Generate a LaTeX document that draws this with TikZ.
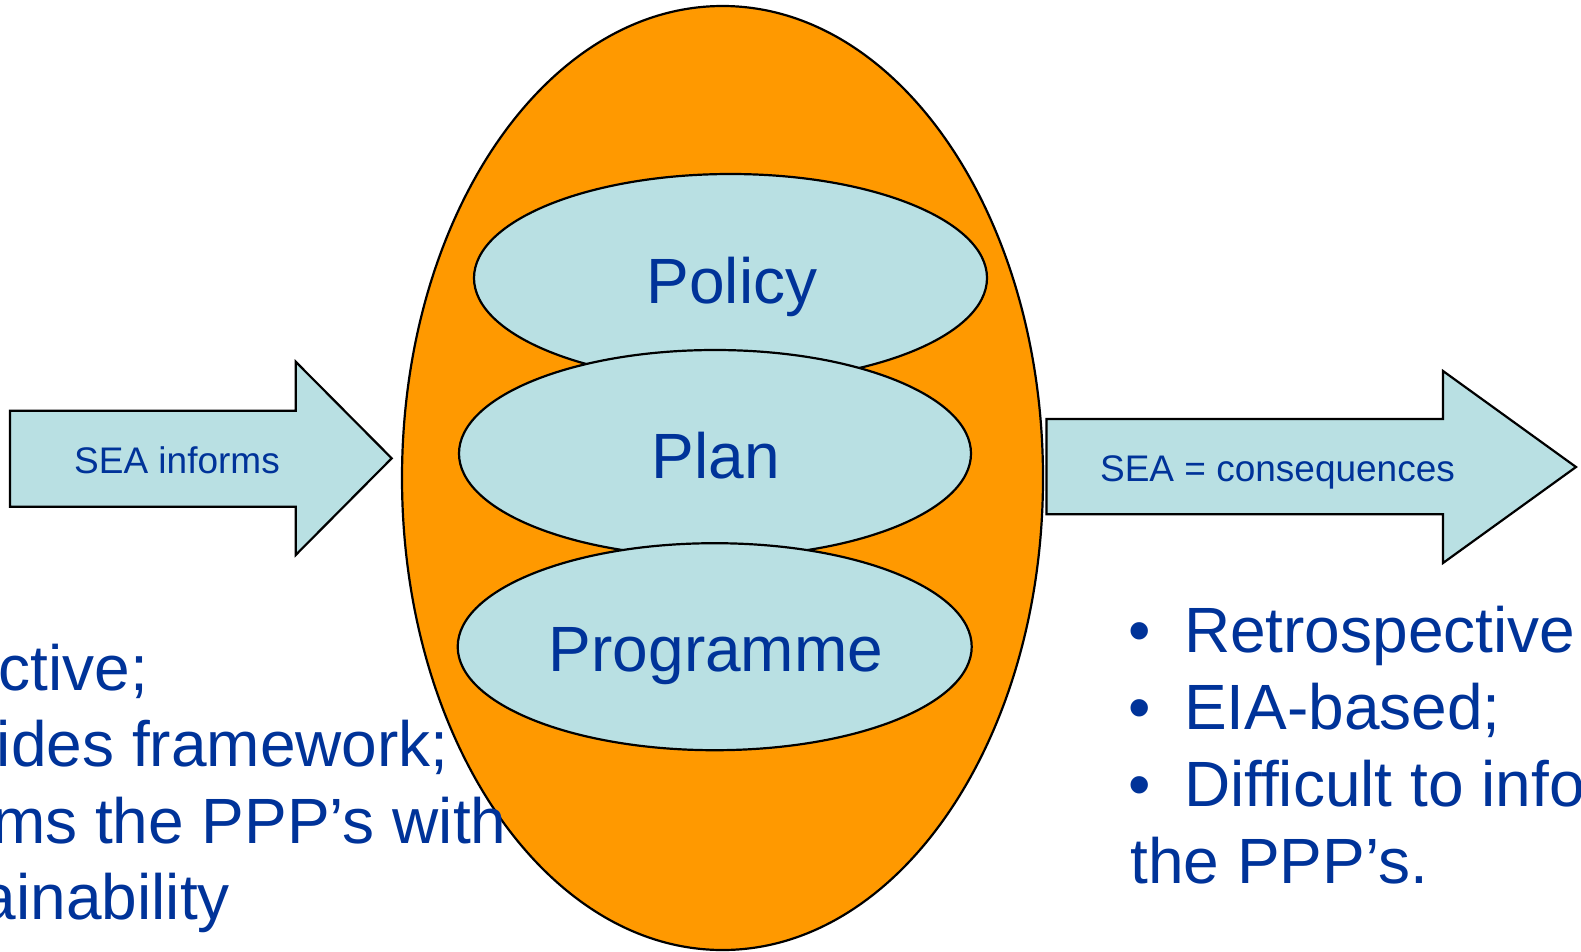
\documentclass[tikz,border=0pt]{standalone}
\usepackage{fontspec}
\setmainfont{Liberation Sans}[Ligatures={NoCommon}]
\usetikzlibrary{shapes.geometric}
\definecolor{txtblue}{HTML}{003399}
\definecolor{pale}{HTML}{B9E0E3}
\definecolor{orng}{HTML}{FF9900}
\begin{document}
\begin{tikzpicture}[x=1pt,y=-1pt,
  outl/.style={draw=black, line width=2.2pt},
  oval/.style={ellipse, outl, fill=pale, inner sep=0pt, outer sep=0pt},
  bigtxt/.style={font=\fontsize{64}{76.8}\selectfont, text=txtblue, inner sep=0pt, outer sep=0pt},
  smalltxt/.style={font=\fontsize{37}{44}\selectfont, text=txtblue, inner sep=0pt, outer sep=0pt},
  fatarrow/.style={outl, fill=pale, line join=miter}]
\useasboundingbox (0,0) rectangle (1581,951);

% big orange ellipse
\node[ellipse, outl, fill=orng, minimum width=641pt, minimum height=944pt, inner sep=0pt] (outer) at (722.5,478) {};

% inner ellipses
\node[oval, minimum width=513pt, minimum height=208pt] (policy) at (730.5,278) {};
\node[oval, minimum width=512pt, minimum height=207pt] (plan) at (715,453.5) {};
\node[oval, minimum width=514pt, minimum height=207pt] (programme) at (714.7,646.7) {};

\node[bigtxt, anchor=base] (policyt) at (732,303.3) {Policy};
\node[bigtxt, anchor=base] (plant) at (716,478.3) {Plan};
\node[bigtxt, anchor=base] (programmet) at (716,671.7) {Programme};

% left arrow
\coordinate (la1) at (10,410.7);
\coordinate (la2) at (295.7,410.7);
\coordinate (la3) at (295.7,361.7);
\coordinate (latip) at (391.7,458.3);
\coordinate (la5) at (295.7,555);
\coordinate (la6) at (295.7,506.7);
\coordinate (la7) at (10,506.7);
\draw[fatarrow] (la1) -- (la2) -- (la3) -- (latip) -- (la5) -- (la6) -- (la7) -- cycle;
\node[smalltxt, anchor=base] (informs) at (177,473) {SEA informs};

% right arrow
\coordinate (ra1) at (1046.5,419);
\coordinate (ra2) at (1443,419);
\coordinate (ra3) at (1443,371);
\coordinate (ratip) at (1576,467);
\coordinate (ra5) at (1443,563);
\coordinate (ra6) at (1443,514.3);
\coordinate (ra7) at (1046.5,514.3);
\draw[fatarrow] (ra1) -- (ra2) -- (ra3) -- (ratip) -- (ra5) -- (ra6) -- (ra7) -- cycle;
\node[smalltxt, anchor=base] (conseq) at (1277.5,481) {SEA = consequences};

% left text (cut at the left edge, as in the reference)
\node[bigtxt, anchor=base west] (l1) at (-1.5,690) {ctive;};
\node[bigtxt, anchor=base west] (l2) at (-3,766.5) {ides framework;};
\node[bigtxt, anchor=base west] (l3) at (-8,843) {ms the PPP’s with};
\node[bigtxt, anchor=base west] (l4) at (-19,919.5) {ainability};

% right text (cut at the right edge, as in the reference)
\node[bigtxt, anchor=base west] (b1) at (1128.5,652.7) {•};
\node[bigtxt, anchor=base west] (r1) at (1184,652.7) {Retrospective};
\node[bigtxt, anchor=base west] (b2) at (1128.5,729.6) {•};
\node[bigtxt, anchor=base west] (r2) at (1184,729.6) {EIA-based;};
\node[bigtxt, anchor=base west] (b3) at (1128.5,806.5) {•};
\node[bigtxt, anchor=base west] (r3) at (1184,806.5) {Difficult to info};
\node[bigtxt, anchor=base west] (r4) at (1130.5,883.3) {the PPP’s.};
\end{tikzpicture}
\end{document}
